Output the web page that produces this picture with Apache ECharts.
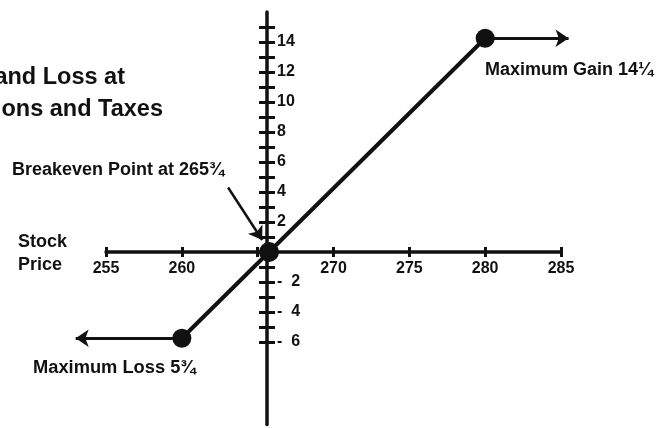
<!DOCTYPE html>
<html>
<head>
<meta charset="utf-8">
<script src="https://cdn.jsdelivr.net/npm/echarts@6/dist/echarts.min.js"></script>
<style>html,body{margin:0;padding:0;background:#fff;}#c{width:668px;height:428px;}</style>
</head>
<body>
<div id="c"></div>
<script>
// ---- data ----
var stockPrice = [260, 265.75, 280];          // loss cap, breakeven, gain cap
var profitLoss = [-5.75, 0, 14.25];
var arrowLeftEnd = 253;                        // left arrow tip (stock price)
var arrowRightEnd = 285.5;                     // right arrow tip (stock price)
var xTickLabels = [255, 260, 270, 275, 280, 285];
var yTicks = [-6,-5,-4,-3,-2,-1,1,2,3,4,5,6,7,8,9,10,11,12,13,14,15];
var yTickLabels = [-6,-4,-2,2,4,6,8,10,12,14];
var titleLines = ['Profit and Loss at', 'Commissions and Taxes'];
var breakevenText = 'Breakeven Point at 265\u00BE';
var gainText = 'Maximum Gain 14\u00BC';
var lossText = 'Maximum Loss 5\u00BE';

var FF = '"Liberation Sans", Arial, Helvetica, sans-serif';
var INK = '#111';
var chart = echarts.init(document.getElementById('c'), null, {renderer:'canvas'});

var be = stockPrice[1];
var pts = stockPrice.map(function (x, i) { return [x, profitLoss[i]]; });

// layout
var AX_LEFT = 106, AX_WIDTH = 455, X_MIN = 255, X_MAX = 285, PAD = 5;
var UX = AX_WIDTH / (X_MAX - X_MIN);
var Y_MIN = -11.5, Y_MAX = 16, TOP = 12, UNIT = 15;
var zeroPx = TOP + Y_MAX * UNIT;
var Y_AXIS_PX = 267;
var dataLeft = AX_LEFT - PAD * UX;

function txt(x, y, s, size, align) {
  return {type:'text', x:x, y:y, style:{text:s, fill:INK, font:'bold ' + size + 'px ' + FF,
    textAlign:align || 'left', textVerticalAlign:'middle'}};
}

var option = {
  animation: false,
  backgroundColor: '#fff',
  grid: [
    {left: dataLeft, top: TOP, width: AX_WIDTH + 2 * PAD * UX, height: (Y_MAX - Y_MIN) * UNIT, outerBoundsMode: 'none', containLabel: false},
    {left: AX_LEFT, top: TOP, width: AX_WIDTH, height: zeroPx - TOP, outerBoundsMode: 'none', containLabel: false}
  ],
  xAxis: [{
    gridIndex: 0, type: 'value', min: X_MIN - PAD, max: X_MAX + PAD, show: false
  }, {
    gridIndex: 1, type: 'value', min: X_MIN, max: X_MAX, interval: 5, position: 'bottom',
    axisLine: {onZero: false, lineStyle: {color: INK, width: 3.5}},
    axisTick: {show: true, length: 5, lineStyle: {color: INK, width: 3}},
    axisLabel: {customValues: xTickLabels, margin: 9, fontSize: 16, fontWeight: 'bold', color: INK, fontFamily: FF,
      showMinLabel: true, showMaxLabel: true},
    splitLine: {show: false}
  }, {
    gridIndex: 1, type: 'value', min: X_MIN, max: X_MAX, interval: 5, position: 'bottom',
    axisLine: {show: false, onZero: false},
    axisTick: {show: true, inside: true, length: 5, lineStyle: {color: INK, width: 3}},
    axisLabel: {show: false}, splitLine: {show: false}
  }],
  yAxis: [{
    gridIndex: 0, type: 'value', min: Y_MIN, max: Y_MAX, position: 'left', offset: -(Y_AXIS_PX - dataLeft),
    axisLine: {show: true, onZero: false, lineStyle: {color: INK, width: 3.5}},
    axisTick: {show: true, customValues: yTicks, length: 8, lineStyle: {color: INK, width: 3}},
    axisLabel: {customValues: yTickLabels, inside: true, margin: 10, fontSize: 16, fontWeight: 'bold', color: INK, fontFamily: FF,
      formatter: function (v) { return v < 0 ? '-  ' + (-v) : String(v); }},
    splitLine: {show: false}
  }, {
    gridIndex: 0, type: 'value', min: Y_MIN, max: Y_MAX, position: 'left', offset: -(Y_AXIS_PX - dataLeft),
    axisLine: {show: false, onZero: false},
    axisTick: {show: true, inside: true, customValues: yTicks, length: 8, lineStyle: {color: INK, width: 3}},
    axisLabel: {show: false}, splitLine: {show: false}
  }, {
    gridIndex: 1, type: 'value', min: 0, max: Y_MAX, show: false
  }],
  series: [{
    type: 'line', xAxisIndex: 0, yAxisIndex: 0, clip: false, z: 5,
    data: pts,
    symbol: 'circle',
    symbolSize: function (v, p) { return p.dataIndex === 1 ? 20 : 19; },
    lineStyle: {color: INK, width: 4},
    itemStyle: {color: INK},
    markLine: {
      silent: true, symbol: ['none', 'arrow'], symbolSize: 13,
      label: {show: false},
      lineStyle: {color: INK, width: 3, type: 'solid'},
      data: [
        [{coord: [stockPrice[2], profitLoss[2]]}, {coord: [arrowRightEnd, profitLoss[2]]}],
        [{coord: [stockPrice[0], profitLoss[0]]}, {coord: [arrowLeftEnd, profitLoss[0]]}],
        [{coord: [be - 2.7, 4.3], lineStyle: {width: 2.5}}, {coord: [be - 0.45, 0.8]}]
      ]
    }
  }],
  graphic: [
    txt(125, 78, titleLines[0], 23.5, 'right'),
    txt(163, 110, titleLines[1], 23.5, 'right'),
    txt(12, 170, breakevenText, 18),
    txt(18, 242, 'Stock', 18),
    txt(18, 265, 'Price', 18),
    txt(485, 70, gainText, 18),
    txt(33, 368, lossText, 18.3)
  ]
};
chart.setOption(option);
</script>
</body>
</html>
